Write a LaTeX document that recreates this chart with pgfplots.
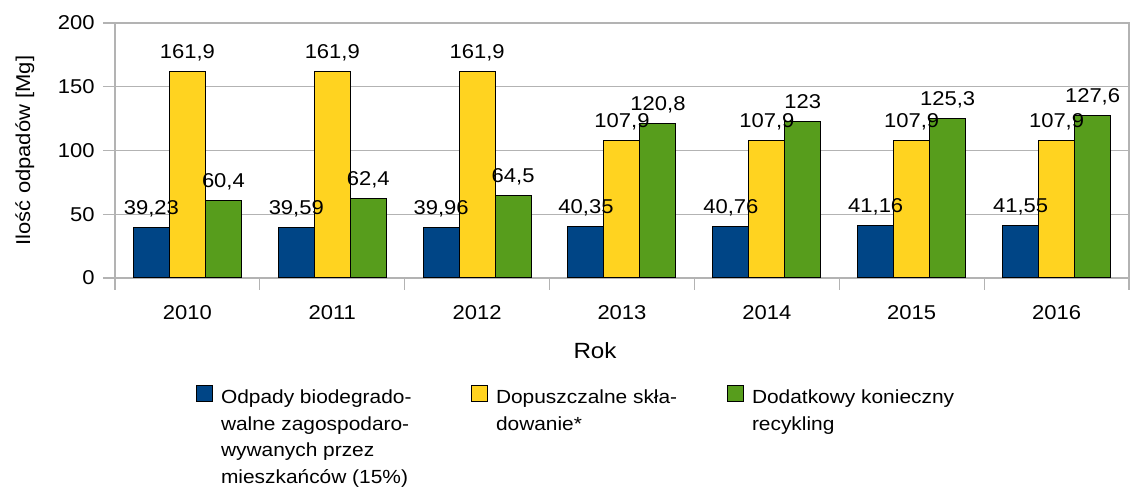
\documentclass[border=0pt]{standalone}
\usepackage{pgfplots}
\pgfplotsset{compat=1.18}
\usepackage{fontspec}
\setmainfont{Liberation Sans}[FakeStretch=1.1]
\definecolor{cblue}{HTML}{004586}
\definecolor{cyellow}{HTML}{FFD320}
\definecolor{cgreen}{HTML}{579D1C}
\definecolor{cgrid}{HTML}{B3B3B3}
\begin{document}
\begin{tikzpicture}
\begin{axis}[
  at={(0,0)}, anchor=south west,
  width=507pt, height=127.5pt, scale only axis,
  font=\fontsize{10}{12}\selectfont,
  ybar=0pt, bar width=18pt,
  xmin=-0.5, xmax=6.5, ymin=0, ymax=200,
  xtick={-0.5,0.5,1.5,2.5,3.5,4.5,5.5,6.5},
  xticklabels={2010,2011,2012,2013,2014,2015,2016,{}},
  xticklabel style={xshift=36.21pt, inner sep=0pt, anchor=north, yshift=-7.5pt},
  ytick={0,50,100,150,200},
  yticklabel style={inner sep=0pt, anchor=east, xshift=-4pt},
  tick align=outside, major tick length=6pt,
  xtick pos=bottom, ytick pos=left,
  tick style={cgrid, line width=0.6pt},
  axis line style={cgrid, line width=0.6pt},
  ymajorgrids, grid style={cgrid, line width=0.6pt},
  /pgf/number format/assume math mode=true,
  /pgf/number format/use comma,
  /pgf/number format/fixed,
  /pgf/number format/precision=2,
  /pgf/number format/1000 sep={},
  nodes near coords,
  nodes near coords style={anchor=base, inner sep=0pt, yshift=6.5pt, font=\fontsize{10}{12}\selectfont, text=black},
  xlabel={Rok},
  xlabel style={at={(axis description cs:0.4734,0)}, anchor=base, yshift=-40.25pt, font=\fontsize{11}{13}\selectfont},
  ylabel={Ilość odpadów [Mg]},
  ylabel style={at={(axis description cs:-0.089,0.5)}, anchor=center, font=\fontsize{10}{12}\selectfont},
  every axis plot post/.append style={
    draw=black, line width=0.5pt,
    legend image code/.code={\draw[##1,draw=black,line width=0.5pt] (0pt,1pt) rectangle (8pt,9pt); \path (12pt,1pt);}
  },
  legend columns=3,
  legend style={at={(axis description cs:0.0799,-0.4196)}, anchor=north west,
    draw=none, inner sep=0pt, outer sep=0pt, column sep=0pt,
    /tikz/every even column/.append style={column sep=0pt},
    nodes={inner sep=0pt, anchor=base west}},
]
\addplot[fill=cblue] coordinates {(0,39.23) (1,39.59) (2,39.96) (3,40.35) (4,40.76) (5,41.16) (6,41.55)};
\addlegendentry{\parbox[t]{125pt}{\fontsize{9.5}{13.35}\selectfont Odpady biodegrado-\\walne zagospodaro-\\wywanych przez\\mieszkańców (15\%)}}
\addplot[fill=cyellow] coordinates {(0,161.9) (1,161.9) (2,161.9) (3,107.9) (4,107.9) (5,107.9) (6,107.9)};
\addlegendentry{\parbox[t]{115.5pt}{\fontsize{9.5}{13.35}\selectfont Dopuszczalne skła-\\dowanie*}}
\addplot[fill=cgreen] coordinates {(0,60.4) (1,62.4) (2,64.5) (3,120.8) (4,123) (5,125.3) (6,127.6)};
\addlegendentry{\parbox[t]{115pt}{\fontsize{9.5}{13.35}\selectfont Dodatkowy konieczny\\recykling}}
\end{axis}
\pgfresetboundingbox
\path[use as bounding box] (-57.5pt,-106pt) rectangle (507.5pt,139pt);
\end{tikzpicture}
\end{document}
